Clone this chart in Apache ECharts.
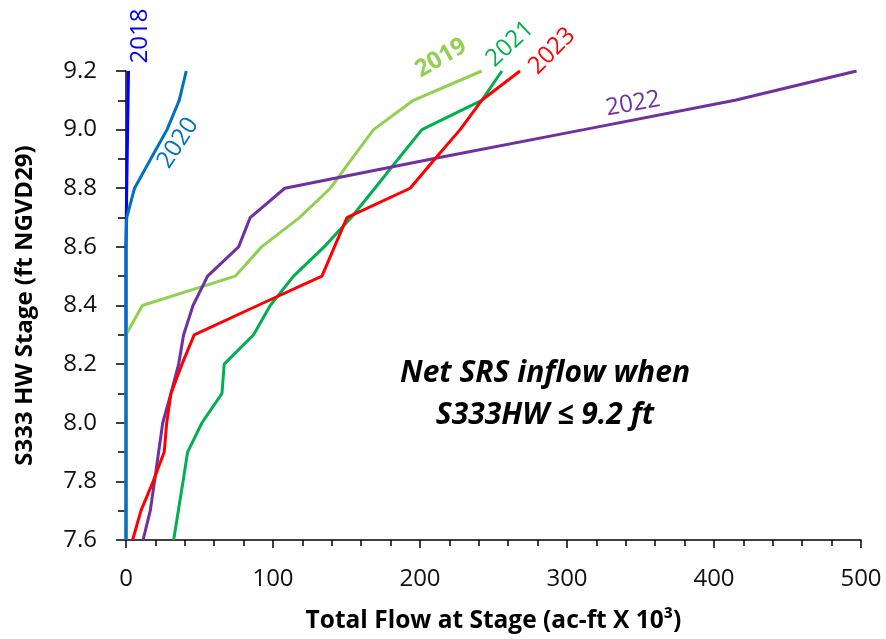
<!DOCTYPE html>
<html>
<head>
<meta charset="utf-8">
<script src="https://cdn.jsdelivr.net/npm/echarts@6/dist/echarts.min.js"></script>
<style>
html,body{margin:0;padding:0;background:#fff;}
#chart{width:886px;height:639px;}
</style>
</head>
<body>
<div id="chart"></div>
<script>
// Stage levels (ft NGVD29)
const stages = [7.6, 7.7, 7.8, 7.9, 8.0, 8.1, 8.2, 8.3, 8.4, 8.5, 8.6, 8.7, 8.8, 8.9, 9.0, 9.1, 9.2];
// Total flow at stage (ac-ft x 10^3), one value per stage
const flow2018 = [0, 0, 0, 0, 0, 0, 0, 0, 0, 0, 0, 0.2, 0.5, 0.8, 1.1, 1.4, 1.7];
const flow2019 = [0, 0, 0, 0, 0, 0, 0, 0, 11.1, 74.3, 92.2, 118, 139, 153.6, 168.4, 195.5, 242];
const flow2020 = [0, 0, 0, 0, 0, 0, 0, 0, 0, 0, 0, 0.5, 5.8, 16.8, 27.9, 36.2, 41];
const flow2021 = [32.4, 35.6, 38.8, 41.9, 51.7, 65.3, 66.8, 86.8, 98.1, 114, 134.8, 153.2, 169.3, 185.2, 201.3, 242, 255.7];
const flow2022 = [11.6, 16.5, 19.4, 22.2, 25, 30.6, 35.8, 39.2, 45.6, 55.5, 76.6, 84.5, 108, 208, 311.5, 414.3, 497];
const flow2023 = [4.5, 10.2, 18.5, 26, 27.7, 30.6, 38.1, 46.4, 89.6, 133.3, 141.8, 150.3, 193.3, 210.1, 227.3, 242, 268];

const years = ['2018', '2019', '2020', '2021', '2022', '2023'];
const flows = [flow2018, flow2019, flow2020, flow2021, flow2022, flow2023];
const colors = ['#0000FF', '#92D050', '#0070C0', '#00B050', '#7030A0', '#FF0000'];

const xTitle = 'Total Flow at Stage (ac-ft X 10³)';
const yTitle = 'S333 HW Stage (ft NGVD29)';
const noteLines = ['Net SRS inflow when', 'S333HW ≤ 9.2 ft'];

const FONT = '"Open Sans", "DejaVu Sans", sans-serif';

const series = years.map((y, k) => ({
  name: y,
  type: 'line',
  symbol: 'none',
  lineStyle: { color: colors[k], width: 3 },
  itemStyle: { color: colors[k] },
  data: stages.map((s, i) => [flows[k][i], s]).filter(p => p[0] !== null),
  z: 2 + k
}));

const chart = echarts.init(document.getElementById('chart'), null, { renderer: 'canvas' });

function label(text, x, y, rotDeg, color, bold) {
  return {
    type: 'text',
    x: x, y: y,
    rotation: rotDeg * Math.PI / 180,
    style: {
      text: text, fill: color,
      font: (bold ? 'bold ' : '') + '24px ' + FONT,
      textAlign: 'center', textVerticalAlign: 'middle'
    },
    z: 100
  };
}

chart.setOption({
  animation: false,
  backgroundColor: '#ffffff',
  grid: { left: 126, right: 25, top: 71, bottom: 97, containLabel: false },
  xAxis: {
    type: 'value', min: 0, max: 500, interval: 100,
    name: xTitle, nameLocation: 'middle', nameGap: 69,
    nameTextStyle: { fontFamily: FONT, fontSize: 24.5, fontWeight: 'bold', color: '#000' },
    axisLine: { show: true, onZero: false, lineStyle: { color: '#000', width: 1.5 } },
    axisTick: { show: true, length: 8, lineStyle: { color: '#000', width: 1.5 } },
    minorTick: { show: true, splitNumber: 5, length: 6, lineStyle: { color: '#000', width: 1.5 } },
    splitLine: { show: false },
    minorSplitLine: { show: false },
    axisLabel: { fontFamily: FONT, fontSize: 24, color: '#111', margin: 27 }
  },
  yAxis: {
    type: 'value', min: 7.6, max: 9.2, interval: 0.2,
    name: yTitle, nameLocation: 'middle', nameGap: 89,
    nameTextStyle: { fontFamily: FONT, fontSize: 24, fontWeight: 'bold', color: '#000' },
    axisLine: { show: true, onZero: false, lineStyle: { color: '#000', width: 1.5 } },
    axisTick: { show: true, length: 10, lineStyle: { color: '#000', width: 1.5 } },
    minorTick: { show: true, splitNumber: 2, length: 8, lineStyle: { color: '#000', width: 1.5 } },
    splitLine: { show: false },
    minorSplitLine: { show: false },
    axisLabel: { fontFamily: FONT, fontSize: 24, color: '#111', margin: 29,
      formatter: v => Number(v).toFixed(1) }
  },
  series: series,
  graphic: [
    label('2018', 140, 36, 90, colors[0], false),
    label('2019', 441, 58, 30, colors[1], true),
    label('2020', 178, 143, 57, colors[2], false),
    label('2021', 510, 44, 43, colors[3], false),
    label('2022', 633, 104, 10, colors[4], false),
    label('2023', 552, 51, 45, colors[5], false),
    {
      type: 'text', x: 545, y: 394, z: 100,
      style: {
        text: noteLines.join('\n'), fill: '#000',
        font: 'italic bold 30px ' + FONT,
        lineHeight: 42,
        textAlign: 'center', textVerticalAlign: 'middle'
      }
    }
  ]
});
</script>
</body>
</html>
